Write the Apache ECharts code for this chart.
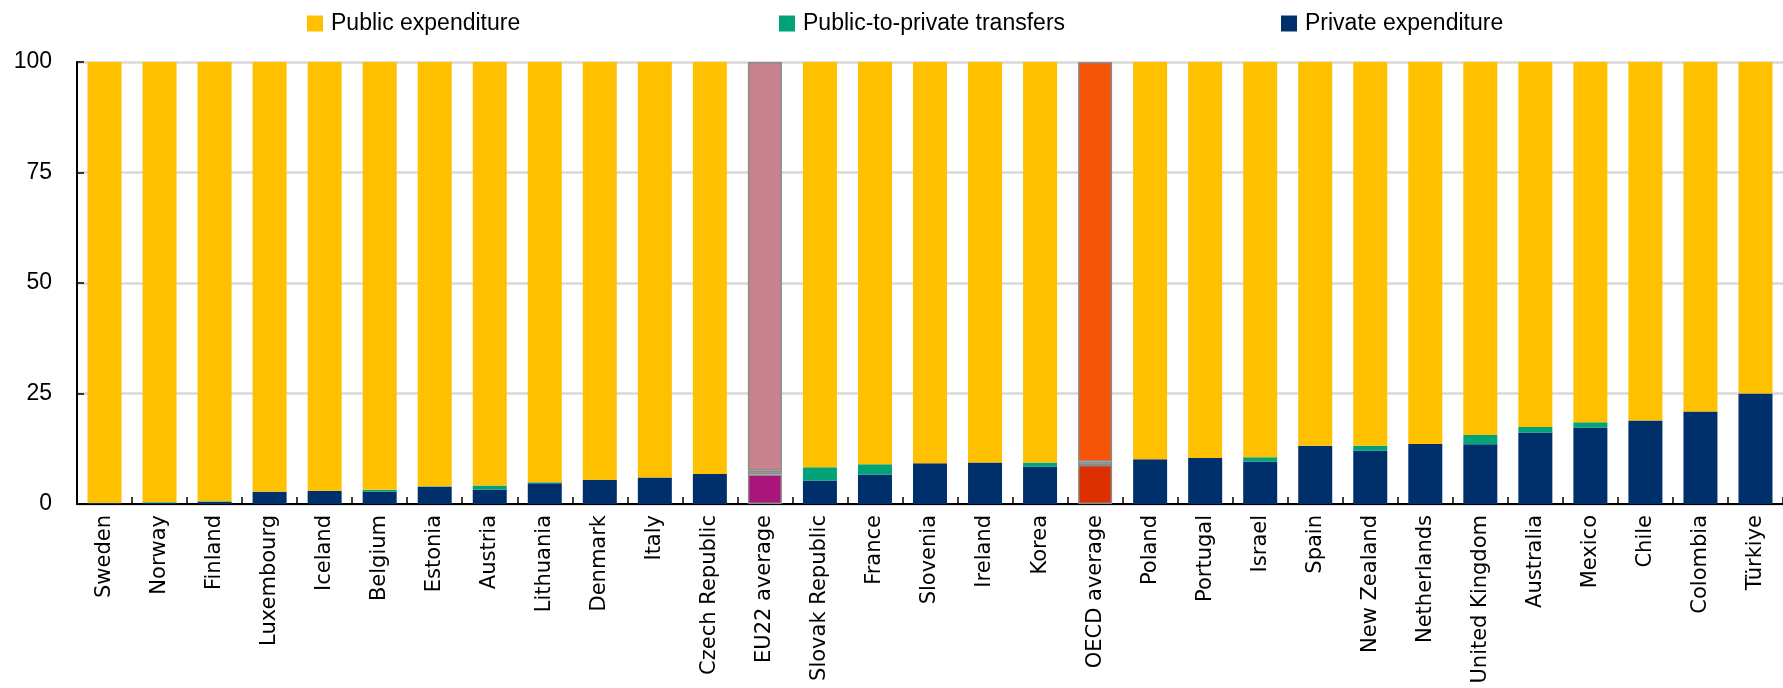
<!DOCTYPE html>
<html>
<head>
<meta charset="utf-8">
<script src="https://cdn.jsdelivr.net/npm/echarts@6/dist/echarts.min.js"></script>
<style>
  html, body { margin: 0; padding: 0; background: #ffffff; }
  #chart { width: 1783px; height: 688px; }
</style>
</head>
<body>
<div id="chart"></div>
<script>
// Countries ordered by private share of expenditure
const categories = [
  'Sweden', 'Norway', 'Finland', 'Luxembourg', 'Iceland', 'Belgium', 'Estonia',
  'Austria', 'Lithuania', 'Denmark', 'Italy', 'Czech Republic', 'EU22 average',
  'Slovak Republic', 'France', 'Slovenia', 'Ireland', 'Korea', 'OECD average',
  'Poland', 'Portugal', 'Israel', 'Spain', 'New Zealand', 'Netherlands',
  'United Kingdom', 'Australia', 'Mexico', 'Chile', 'Colombia', 'Türkiye'
];

// Shares of total expenditure (%)
const privateExpenditure = [
  0.2, 0.2, 0.5, 2.7, 3.0, 2.8, 3.9, 3.3, 4.7, 5.5, 6.0, 6.8, 6.7,
  5.3, 6.7, 9.2, 9.4, 8.5, 8.8, 10.1, 10.4, 9.6, 13.2, 12.1, 13.6,
  13.5, 16.2, 17.3, 18.9, 20.9, 25.0
];
const publicToPrivateTransfers = [
  0.0, 0.2, 0.1, 0.1, 0.0, 0.4, 0.1, 0.9, 0.2, 0.0, 0.0, 0.0, 0.8,
  3.0, 2.3, 0.0, 0.0, 0.9, 0.8, 0.0, 0.0, 1.0, 0.0, 1.1, 0.0,
  2.1, 1.2, 1.2, 0.0, 0.0, 0.0
];
const publicExpenditure = [
  99.8, 99.6, 99.4, 97.2, 97.0, 96.8, 96.0, 95.8, 95.1, 94.5, 94.0, 93.2, 92.5,
  91.7, 91.0, 90.8, 90.6, 90.6, 90.4, 89.9, 89.6, 89.4, 86.8, 86.8, 86.4,
  84.4, 82.6, 81.5, 81.1, 79.1, 75.0
];

const yTicks = [0, 25, 50, 75, 100];

const SERIES_NAMES = ['Public expenditure', 'Public-to-private transfers', 'Private expenditure'];
const COLORS = {
  public: '#FFC000',
  transfers: '#03A37A',
  private: '#00306C'
};
// Average bars get their own palette
const HIGHLIGHT = {
  'EU22 average': { public: '#C8838E', transfers: '#A39A9C', private: '#A9157A' },
  'OECD average': { public: '#F45507', transfers: '#C29F92', private: '#DC3000' }
};

function buildData(values, key) {
  return values.map((v, i) => {
    const h = HIGHLIGHT[categories[i]];
    if (!h) return v;
    return {
      value: v,
      itemStyle: { color: h[key], borderColor: '#8a8a8a', borderWidth: 1.5 }
    };
  });
}

const LABEL_FONT = 'DejaVu Sans';
const TEXT_FONT = 'Liberation Sans';

function legendAt(left, name) {
  return {
    show: true,
    left: left,
    top: 7,
    data: [name],
    icon: 'rect',
    itemWidth: 16,
    itemHeight: 16,
    selectedMode: false,
    textStyle: { fontFamily: TEXT_FONT, fontSize: 23, color: '#000', padding: [0, 0, 0, 3] }
  };
}

const chart = echarts.init(document.getElementById('chart'), null, { renderer: 'canvas' });

const barCommon = {
  type: 'bar',
  stack: 'total',
  barWidth: 34,
  animation: false,
  emphasis: { disabled: true }
};

chart.setOption({
  backgroundColor: '#ffffff',
  animation: false,
  legend: [
    legendAt(302, SERIES_NAMES[0]),
    legendAt(774, SERIES_NAMES[1]),
    legendAt(1276, SERIES_NAMES[2])
  ],
  grid: { left: 77, right: 0, top: 62, bottom: 184, containLabel: false },
  xAxis: {
    type: 'category',
    data: categories,
    boundaryGap: true,
    axisLine: { show: true, lineStyle: { color: '#000', width: 2 } },
    axisTick: { show: true, inside: true, length: 7, interval: 0, lineStyle: { color: '#000', width: 1.5 } },
    axisLabel: {
      interval: 0,
      rotate: 90,
      margin: 11,
      fontFamily: LABEL_FONT,
      fontSize: 21,
      color: '#000'
    }
  },
  yAxis: {
    type: 'value',
    min: yTicks[0],
    max: yTicks[yTicks.length - 1],
    interval: 25,
    axisLine: { show: true, lineStyle: { color: '#000', width: 2 } },
    axisTick: { show: true, inside: true, length: 7, lineStyle: { color: '#000', width: 1.5 } },
    axisLabel: {
      margin: 25,
      fontFamily: TEXT_FONT,
      fontSize: 23,
      color: '#000'
    },
    splitLine: { show: true, lineStyle: { color: '#D9D9D9', width: 2.5 } }
  },
  series: [
    Object.assign({}, barCommon, {
      name: SERIES_NAMES[2],
      itemStyle: { color: COLORS.private },
      data: buildData(privateExpenditure, 'private')
    }),
    Object.assign({}, barCommon, {
      name: SERIES_NAMES[1],
      itemStyle: { color: COLORS.transfers },
      data: buildData(publicToPrivateTransfers, 'transfers')
    }),
    Object.assign({}, barCommon, {
      name: SERIES_NAMES[0],
      itemStyle: { color: COLORS.public },
      data: buildData(publicExpenditure, 'public')
    })
  ]
});
</script>
</body>
</html>
